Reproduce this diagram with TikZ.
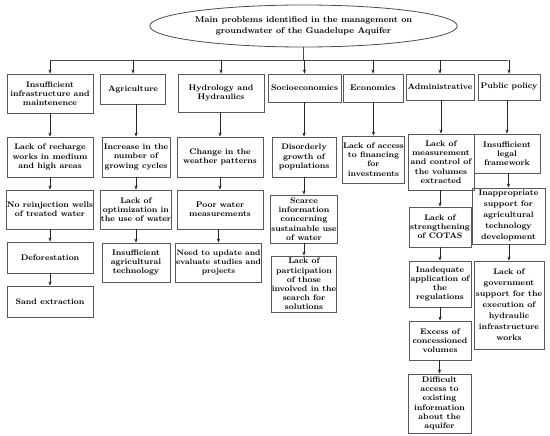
\documentclass[tikz,border=0pt]{standalone}
\usepackage{fontspec}
\usetikzlibrary{shapes.geometric,arrows.meta}
\begin{document}
\begin{tikzpicture}[x=1pt,y=-1pt,
  bx/.style={draw=black!65, line width=0.9pt, align=center, inner sep=0.5pt,
    font=\fontsize{8.1}{9.2}\selectfont\bfseries},
  bxs/.style={bx, font=\fontsize{7.8}{9.2}\selectfont\bfseries},
  bxw/.style={bx, font=\fontsize{8.1}{11}\selectfont\bfseries},
  arr/.style={draw=black!85, line width=0.6pt, -{Stealth[length=4pt,width=3.2pt]}},
  ln/.style={draw=black!70, line width=0.7pt}]
\useasboundingbox (0,0) rectangle (550,436);
% top
\node[ellipse, draw=black!70, line width=0.8pt, minimum width=213pt, minimum height=42pt, inner sep=0pt,
  align=center, font=\fontsize{8.4}{10.5}\selectfont\bfseries] (top) at (303.5,26)
  {Main problems identified in the management on\\groundwater of the Guadelupe Aquifer};
% headers
\node[bx, minimum width=86pt, minimum height=39pt] (h1) at (50,93.5) {Insufficient\\infrastructure and\\maintenence};
\node[bx, minimum width=65pt, minimum height=30pt] (h2) at (133,89) {Agriculture};
\node[bx, minimum width=86pt, minimum height=38pt] (h3) at (221,93) {Hydrology and\\Hydraulics};
\node[bx, minimum width=73pt, minimum height=28pt] (h4) at (304.5,88) {Socioeconomics};
\node[bx, minimum width=60pt, minimum height=28pt] (h5) at (373,88) {Economics};
\node[bx, minimum width=68pt, minimum height=26pt] (h6) at (440,87) {Administrative};
\node[bx, minimum width=62pt, minimum height=26pt] (h7) at (509,87) {Public policy};
% row 2
\node[bx, minimum width=86pt, minimum height=40pt] (a2) at (50,157) {Lack of recharge\\works in medium\\and high areas};
\node[bx, minimum width=68pt, minimum height=40pt] (b2) at (136,157) {Increase in the\\number of\\growing cycles};
\node[bx, minimum width=86pt, minimum height=40pt] (c2) at (220,157) {Change in the\\weather patterns};
\node[bx, minimum width=64pt, minimum height=40pt] (d2) at (304,157) {Disorderly\\growth of\\populations};
\node[bx, minimum width=61pt, minimum height=47pt] (e2) at (373.5,159.5) {Lack of access\\to financing\\for\\investments};
\node[bx, minimum width=66pt, minimum height=56pt] (f2) at (441,162) {Lack of\\measurement\\and control of\\the volumes\\extracted};
\node[bx, minimum width=66pt, minimum height=39pt] (g2) at (507,153.5) {Insufficient\\legal\\framework};
% row 3
\node[bx, minimum width=86pt, minimum height=39pt] (a3) at (50,209.5) {No reinjection wells\\of treated water};
\node[bx, minimum width=68pt, minimum height=39pt] (b3) at (136,209.5) {Lack of\\optimization in\\the use of water};
\node[bx, minimum width=86pt, minimum height=39pt] (c3) at (220,209.5) {Poor water\\measurements};
\node[bx, minimum width=64pt, minimum height=48pt] (d3) at (304,219) {Scarce\\information\\concerning\\sustainable use\\of water};
\node[bx, minimum width=62pt, minimum height=40pt] (f3) at (440,227) {Lack of\\strengthening\\of COTAS};
\node[bxw, minimum width=73pt, minimum height=56pt] (g3) at (508.5,216) {Inappropriate\\support for\\agricultural\\technology\\development};
% row 4
\node[bx, minimum width=86pt, minimum height=31pt] (a4) at (50,257.5) {Deforestation};
\node[bx, minimum width=68pt, minimum height=39pt] (b4) at (136,262.5) {Insufficient\\agricultural\\technology};
\node[bxs, minimum width=85pt, minimum height=39pt] (c4) at (218.5,262.5) {Need to update and\\evaluate studies and\\projects};
\node[bx, minimum width=64pt, minimum height=56pt] (d4) at (304,284) {Lack of\\participation\\of those\\involved in the\\search for\\solutions};
\node[bx, minimum width=62pt, minimum height=46pt] (f4) at (440,284) {Inadequate\\application of\\the\\regulations};
\node[bxw, minimum width=70pt, minimum height=88pt] (g4) at (509,305) {Lack of\\government\\support for the\\execution of\\hydraulic\\infrastructure\\works};
% row 5, 6
\node[bx, minimum width=86pt, minimum height=31pt] (a5) at (50,301.5) {Sand extraction};
\node[bx, minimum width=62pt, minimum height=39pt] (f5) at (440,340.5) {Excess of\\concessioned\\volumes};
\node[bx, minimum width=63pt, minimum height=59pt] (f6) at (439.5,403.5) {Difficult\\access to\\existing\\information\\about the\\aquifer};
% bus
\coordinate (busL) at (50,60);
\coordinate (busR) at (508,60);
\draw[ln] (top.south) -- (top.south |- busL);
\draw[ln] (busL) -- (busR);
\foreach \h in {h1,h2,h3,h4,h5,h6,h7}
  \draw[arr] (\h.north |- busL) -- (\h.north);
% chains
\foreach \u/\v in {h1/a2,a2/a3,a3/a4,a4/a5,
                   h2/b2,b2/b3,b3/b4,
                   h3/c2,c2/c3,c3/c4,
                   h4/d2,d2/d3,d3/d4,
                   h5/e2,
                   h6/f2,f2/f3,f3/f4,f4/f5,f5/f6,
                   h7/g2,g2/g3,g3/g4}
  \draw[arr] (\u.south -| \v.north) -- (\v.north);
\end{tikzpicture}
\end{document}
